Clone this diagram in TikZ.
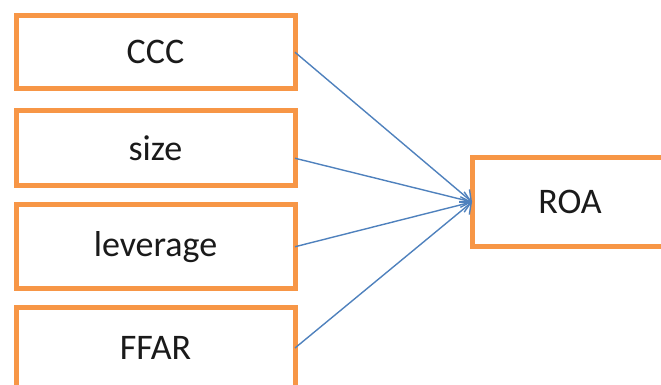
\documentclass[tikz,border=0pt]{standalone}
\usepackage{fontspec}
\setmainfont{Carlito}
\usetikzlibrary{arrows.meta}
\definecolor{boxorange}{HTML}{F79646}
\definecolor{linkblue}{HTML}{4F81BD}
\definecolor{txt}{HTML}{1A1A1A}
\begin{document}
\begin{tikzpicture}[x=1pt,y=1pt,
  factor/.style={draw=boxorange, line width=5pt, fill=white, rectangle,
    font=\fontsize{36}{40}\selectfont, text=txt, inner sep=0pt, outer sep=0pt},
  link/.style={draw=linkblue, line width=1.4pt, -{Straight Barb[length=9pt,width=16pt]}}]
\useasboundingbox (0,0) rectangle (661,385);
\clip (0,0) rectangle (661,385);
\node[factor, minimum width=279pt, minimum height=73.5pt] (ccc) at (155.5,332.75) {CCC};
\node[factor, minimum width=279pt, minimum height=74.5pt] (size) at (155.5,236.75) {size};
\node[factor, minimum width=279pt, minimum height=84.5pt] (lev) at (155.5,138.25) {leverage};
\node[factor, minimum width=279pt, minimum height=80pt] (ffar) at (155.5,37) {FFAR};
\node[factor, minimum width=196pt, minimum height=89pt] (roa) at (570,183) {ROA};
\draw[link] (ccc.east) -- (roa.west);
\draw[link] ([yshift=-10pt]size.east) -- (roa.west);
\draw[link] (lev.east) -- (roa.west);
\draw[link] (ffar.east) -- (roa.west);
\end{tikzpicture}
\end{document}
